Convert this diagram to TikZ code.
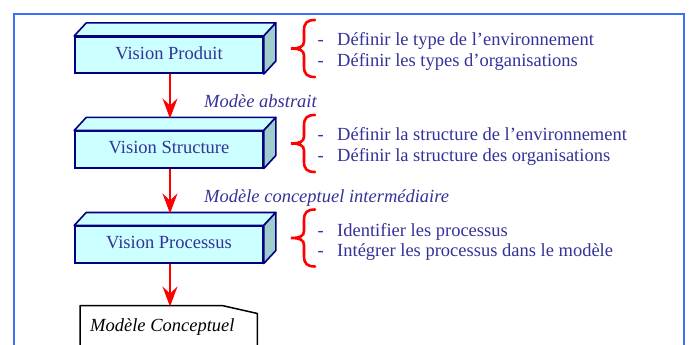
\documentclass[tikz,border=0pt]{standalone}
\usepackage{fontspec}
\setmainfont{Liberation Serif}
\usetikzlibrary{arrows.meta,calc}
\definecolor{txtblue}{HTML}{333399}
\definecolor{boxnavy}{HTML}{000080}
\definecolor{frontc}{HTML}{CCFFFF}
\definecolor{sidec}{HTML}{A0CCCC}
\definecolor{frameblue}{HTML}{3C6EFF}
\tikzset{
  vbox/.style={draw=boxnavy, line width=1.6pt, fill=frontc, minimum width=188pt, minimum height=36.5pt,
    inner sep=0pt, text=txtblue, font=\fontsize{18.5}{22}\selectfont, text height=12.6pt, text depth=4pt},
  face/.style={draw=boxnavy, line width=1.6pt, line join=round},
  redarrow/.style={draw=red, line width=2pt, -{Stealth[length=20pt,width=15pt,inset=7pt]}},
  bracestyle/.style={draw=red, line width=2.6pt, line cap=round},
  itemtxt/.style={anchor=base west, inner sep=0pt, text=txtblue, font=\fontsize{18.5}{22}\selectfont},
  labtxt/.style={anchor=base west, inner sep=0pt, text=txtblue, font=\fontsize{18.5}{22}\selectfont\itshape},
  rbrace/.pic={\draw[bracestyle] (24,-28.5) .. controls (16,-28.5) and (13,-25.5) .. (13,-18) -- (13,-7)
      .. controls (13,-2) and (9,0) .. (0,0) .. controls (9,0) and (13,2) .. (13,7) -- (13,18)
      .. controls (13,25.5) and (16,28.5) .. (24,28.5);}
}
\begin{document}
\begin{tikzpicture}[x=1pt,y=-1pt]
\useasboundingbox (0,0) rectangle (689,345);
\fill[white] (0,0) rectangle (689,345);
% frame
\draw[frameblue, line width=2.2pt] (14,14) rectangle (684,370);

% boxes
\foreach \nm/\cy/\txt in {b1/55/Vision Produit, b2/149.5/Vision Structure, b3/244.5/Vision Processus}{
  \node[vbox] (\nm) at (169,\cy) {\txt};
  \draw[face, fill=frontc] (\nm.north west) -- ++(12,-13) -- ($(\nm.north east)+(12,-13)$) -- (\nm.north east) -- cycle;
  \draw[face, fill=sidec] (\nm.north east) -- ++(12,-13) -- ($(\nm.south east)+(12,-13)$) -- (\nm.south east) -- cycle;
}

% final document shape
\node[anchor=north west, minimum width=177pt, minimum height=60pt, inner sep=0pt] (mc) at (80,305.5) {};
\draw[black, line width=1.5pt, line join=round] (mc.south west) -- (mc.north west) -- ($(mc.north west)+(142,0)$) -- ($(mc.north east)+(0,8)$) -- (mc.south east);
\node[anchor=base west, inner sep=0pt, font=\fontsize{18.5}{22}\selectfont\itshape] (mct) at (90,331) {Modèle Conceptuel};

% arrows
\coordinate (t2) at ($(b2.north)+(1,-12)$);
\coordinate (t3) at ($(b3.north)+(1,-12)$);
\coordinate (t4) at ($(mc.north west)+(90,1)$);
\draw[redarrow] ($(b1.south)+(1,0)$) -- (t2);
\draw[redarrow] ($(b2.south)+(1,0)$) -- (t3);
\draw[redarrow] ($(b3.south)+(1,0)$) -- (t4);

% labels between boxes
\node[labtxt] (l1) at (204,107) {Modèe abstrait};
\node[labtxt] (l2) at (204,202) {Modèle conceptuel intermédiaire};

% braces
\pic at (291,48.5) {rbrace};
\pic at (291,143.5) {rbrace};
\pic at (291,238) {rbrace};

% items
\node[itemtxt] (d11) at (317.5,46) {-};
\node[itemtxt] (i11) at (337,46) {Définir le type de l’environnement};
\node[itemtxt] (d12) at (317.5,67) {-};
\node[itemtxt] (i12) at (337,67) {Définir les types d’organisations};
\node[itemtxt] (d21) at (317.5,140.7) {-};
\node[itemtxt] (i21) at (337,140.7) {Définir la structure de l’environnement};
\node[itemtxt] (d22) at (317.5,161.7) {-};
\node[itemtxt] (i22) at (337,161.7) {Définir la structure des organisations};
\node[itemtxt] (d31) at (317.5,236) {-};
\node[itemtxt] (i31) at (337,236) {Identifier les processus};
\node[itemtxt] (d32) at (317.5,256.7) {-};
\node[itemtxt] (i32) at (337,256.7) {Intégrer les processus dans le modèle};
\end{tikzpicture}
\end{document}
